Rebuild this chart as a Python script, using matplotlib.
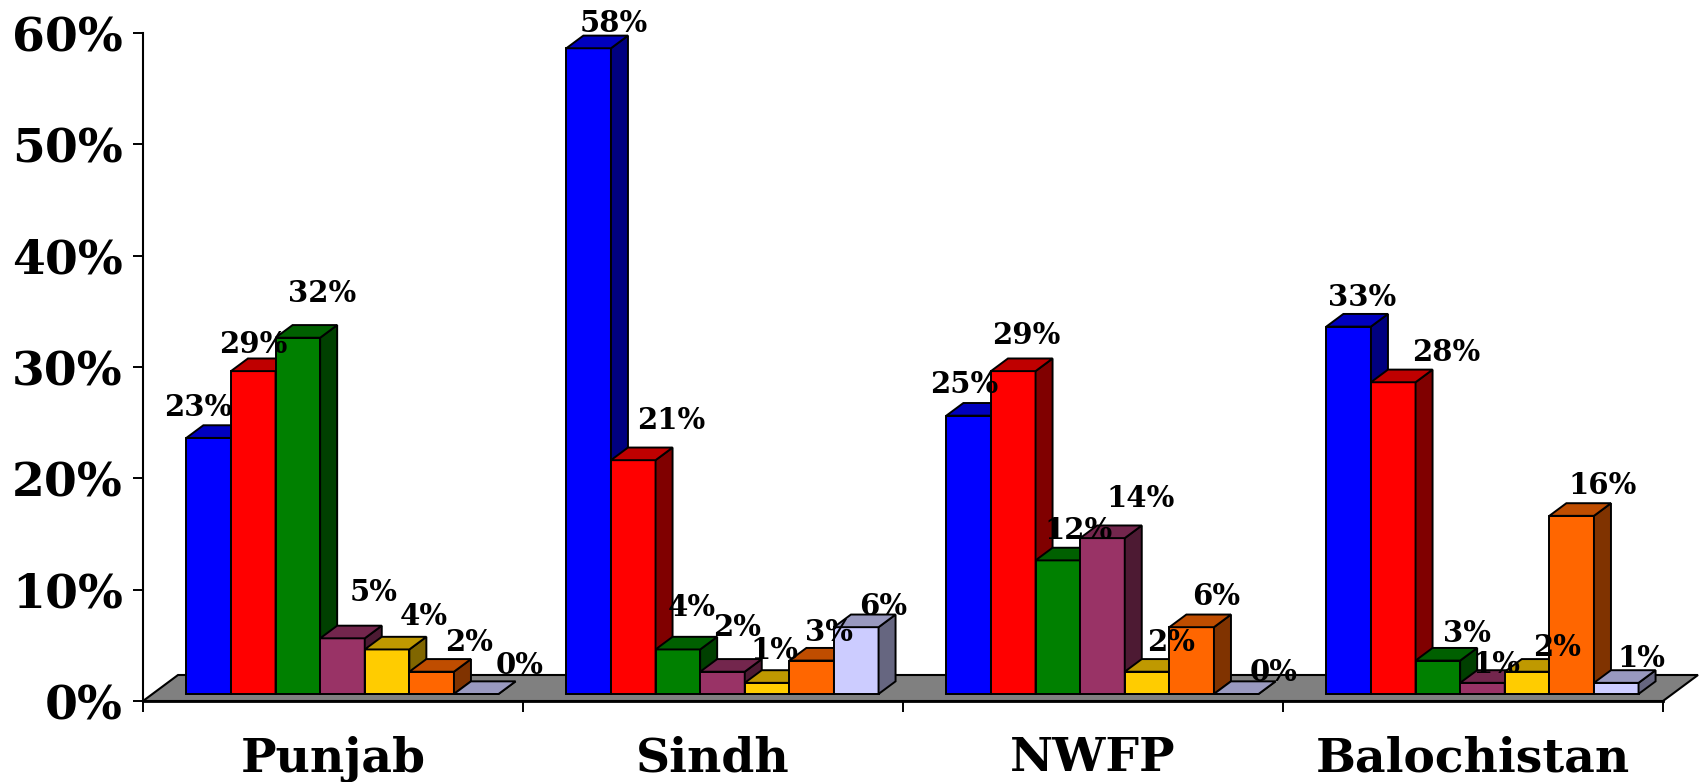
import matplotlib
matplotlib.use('Agg')
import matplotlib.pyplot as plt
from matplotlib.patches import Polygon
from matplotlib.colors import to_rgb
import numpy as np

plt.rcParams['font.family'] = ['DejaVu Serif']
plt.rcParams['font.weight'] = 'bold'

provinces = ['Punjab', 'Sindh', 'NWFP', 'Balochistan']
series_colors = ['#0000FF', '#FF0000', '#008000', '#993366', '#FFCC00', '#FF6600', '#CCCCFF']

# share (%) of each of the seven series, per province
punjab = [23, 29, 32, 5, 4, 2, 0]
sindh = [58, 21, 4, 2, 1, 3, 6]
nwfp = [25, 29, 12, 14, 2, 6, 0]
balochistan = [33, 28, 3, 1, 2, 16, 1]

# label nudges in pixels (x, y) from the front-top centre of each bar
label_dx = [[-10, 0, 24, 31, 37, 37, 43],
            [25, 38, 14, 15, 7, 17, 27],
            [-4, 13, 21, 38, 24, 25, 37],
            [13, 53, 29, 14, 30, 31, 25]]
label_dy = [[22, 18, 36, 37, 24, 21, 20],
            [16, 31, 33, 36, 24, 20, 12],
            [23, 27, 21, 31, 21, 22, 13],
            [21, 21, 19, 10, 16, 22, 16]]

values = np.array([punjab, sindh, nwfp, balochistan])

W, H = 1701, 782
fig = plt.figure(figsize=(W / 100, H / 100), dpi=100)
ax = fig.add_axes([143 / W, (H - 701) / H, 1520 / W, 668 / H])
ax.set_xlim(0, 4)
ax.set_ylim(0, 60)

# floor depth vector in data units (35 px right, 26 px up)
px_x = 1520 / 4
px_y = 668 / 60
DX, DY = 35 / px_x, 26 / px_y
z0, z1 = 0.27, 0.756

floor = Polygon([(0, 0), (4, 0), (4 + DX, DY), (DX, DY)], closed=True,
                facecolor='#808080', edgecolor='black', lw=1.5, zorder=1, clip_on=False)
ax.add_patch(floor)


def shade(c, f):
    r, g, b = to_rgb(c)
    return (r * f, g * f, b * f)


def box(x0, w, h, color):
    fx, fy = z0 * DX, z0 * DY
    bx, by = z1 * DX, z1 * DY
    front = [(x0 + fx, fy), (x0 + w + fx, fy), (x0 + w + fx, h + fy), (x0 + fx, h + fy)]
    top = [(x0 + fx, h + fy), (x0 + w + fx, h + fy), (x0 + w + bx, h + by), (x0 + bx, h + by)]
    side = [(x0 + w + fx, fy), (x0 + w + bx, by), (x0 + w + bx, h + by), (x0 + w + fx, h + fy)]
    for pts, c in ((front, to_rgb(color)), (side, shade(color, 0.5)), (top, shade(color, 0.75))):
        ax.add_patch(Polygon(pts, closed=True, facecolor=c, edgecolor='black',
                             lw=1.4, zorder=2, clip_on=False, joinstyle='miter'))


n = len(series_colors)
bw = 44.6 / px_x
margin = (1 - n * bw) / 2
for ci in range(len(provinces)):
    for si in range(n):
        x0 = ci + margin + si * bw
        v = values[ci, si]
        box(x0, bw, v, series_colors[si])
        ax.annotate(f'{v}%', xy=(x0 + bw / 2 + z0 * DX, v + z0 * DY),
                    xytext=(label_dx[ci][si], label_dy[ci][si]), textcoords='offset pixels',
                    ha='center', va='baseline', fontsize=21, fontweight='bold',
                    zorder=5, annotation_clip=False)

for ci, name in enumerate(provinces):
    ax.annotate(name, xy=(ci + 0.5, 0), xytext=(0, -70), textcoords='offset pixels',
                ha='center', va='baseline', fontsize=34, fontweight='bold',
                annotation_clip=False)

ax.set_yticks(range(0, 61, 10))
ax.set_yticklabels([f'{t}%' for t in range(0, 61, 10)])
ax.set_xticks(range(0, 5))
ax.set_xticklabels([])
ax.tick_params(axis='y', direction='out', length=7.5, width=1.4, pad=7, labelsize=34)
ax.tick_params(axis='x', direction='out', length=8, width=1.4)
for s in ('top', 'right'):
    ax.spines[s].set_visible(False)
ax.spines['left'].set_linewidth(1.5)
ax.spines['bottom'].set_linewidth(2)
ax.patch.set_alpha(0)

fig.savefig('out.png', dpi=100)
